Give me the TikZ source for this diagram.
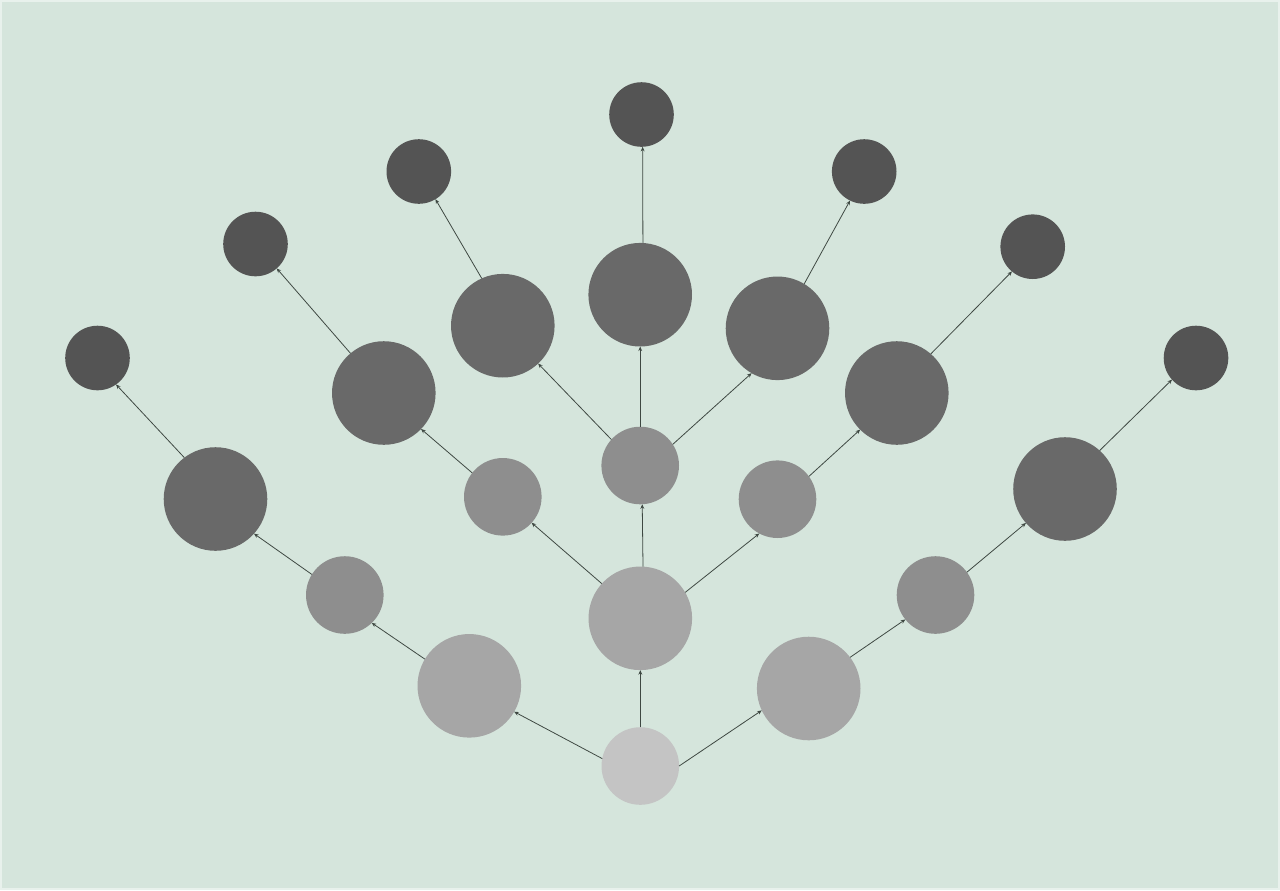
\documentclass[tikz,border=0pt]{standalone}
\usetikzlibrary{arrows.meta}
\definecolor{bgc}{HTML}{D5E5DC}
\definecolor{bgedge}{HTML}{E8F1EC}
\definecolor{c0}{HTML}{C4C4C4}
\definecolor{c1}{HTML}{A6A6A6}
\definecolor{c2}{HTML}{8E8E8E}
\definecolor{c3}{HTML}{696969}
\definecolor{c4}{HTML}{545454}
\definecolor{linec}{HTML}{3E4842}
\begin{document}
\begin{tikzpicture}[x=0.02cm,y=-0.02cm,
  ball/.style={circle,draw=none,inner sep=0pt,outer sep=0pt},
  lv0/.style={ball,fill=c0,minimum size=1.552cm},
  lv1/.style={ball,fill=c1,minimum size=2.072cm},
  lv2/.style={ball,fill=c2,minimum size=1.552cm},
  lv3/.style={ball,fill=c3,minimum size=2.072cm},
  lv4/.style={ball,fill=c4,minimum size=1.292cm},
  link/.style={draw=linec,line width=0.45pt,-{Stealth[length=2.6pt,width=2.2pt]}}]
\useasboundingbox (0,0) rectangle (1280,890);
\fill[bgedge] (0,0) rectangle (1280,890);
\fill[bgc] (2,2) rectangle (1278,888);
% root
\node[lv0] (r) at (640.3,766) {};
% level 1
\node[lv1] (a) at (469.3,685.8) {};
\node[lv1] (b) at (640.3,618.3) {};
\node[lv1] (c) at (808.7,688.5) {};
% level 2
\node[lv2] (a1) at (344.8,595) {};
\node[lv2] (b1) at (502.8,496.8) {};
\node[lv2] (b2) at (640.2,465.5) {};
\node[lv2] (b3) at (777.5,499.2) {};
\node[lv2] (c1) at (935.5,595) {};
% level 3
\node[lv3] (a11) at (215.5,499) {};
\node[lv3] (b11) at (383.8,393) {};
\node[lv3] (b21) at (502.8,325.7) {};
\node[lv3] (b22) at (640.2,294.7) {};
\node[lv3] (b23) at (777.5,328.3) {};
\node[lv3] (b31) at (896.8,393) {};
\node[lv3] (c11) at (1065,489) {};
% level 4
\node[lv4] (a111) at (97.5,358) {};
\node[lv4] (b111) at (255.5,244) {};
\node[lv4] (b211) at (418.8,171.5) {};
\node[lv4] (b221) at (641.5,114.5) {};
\node[lv4] (b231) at (864.2,171.5) {};
\node[lv4] (b311) at (1032.7,246.7) {};
\node[lv4] (c111) at (1196,358) {};
% links
\draw[link] (r.169.7) -- (a.330.8);
\draw[link] (r.90) -- (b.270);
\draw[link] (r.0) -- (c.205.5);
\draw[link] (a.149.1) -- (a1.314.6);
\draw[link] (b.138.9) -- (b1.318.3);
\draw[link] (b.87.8) -- (b2.273.1);
\draw[link] (b.30) -- (b3.242.4);
\draw[link] (c.37.3) -- (c1.219.9);
\draw[link] (a1.148.9) -- (a11.318.6);
\draw[link] (b1.142.9) -- (b11.316.7);
\draw[link] (b2.138.9) -- (b21.313.4);
\draw[link] (b2.90) -- (b22.270);
\draw[link] (b2.33.4) -- (b23.240.2);
\draw[link] (b3.36.7) -- (b31.225.4);
\draw[link] (c1.36.8) -- (c11.221);
\draw[link] (a11.127) -- (a111.305.4);
\draw[link] (b11.130.4) -- (b111.311);
\draw[link] (b21.114) -- (b211.301.2);
\draw[link] (b22.87.2) -- (b221.272.1);
\draw[link] (b23.59.5) -- (b231.244.3);
\draw[link] (b31.49.3) -- (b311.230.2);
\draw[link] (c11.48.7) -- (c111.222.2);
\end{tikzpicture}
\end{document}
